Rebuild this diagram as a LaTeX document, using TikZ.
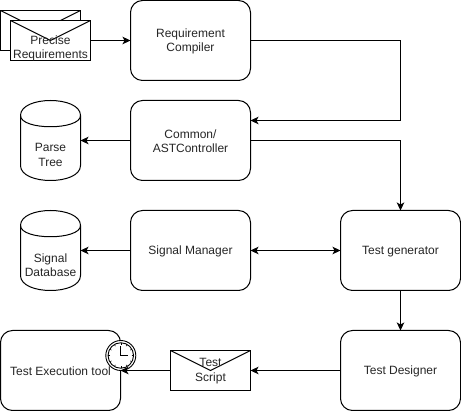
\documentclass[tikz,border=0pt]{standalone}
\usepackage{fontspec}
\setmainfont{Liberation Sans}
\usetikzlibrary{arrows.meta,calc}
\tikzset{
  x=1pt,y=-1pt,
  every node/.style={font=\fontsize{12}{14.5}\selectfont,text=black!85,align=center,inner sep=0pt,outer sep=0pt},
  proc/.style={draw=black,fill=white,line width=1pt,rounded corners=12pt,minimum width=120pt,minimum height=80pt},
  envbox/.style={draw=black,fill=white,line width=1pt,minimum width=80pt,minimum height=40pt},
  cylbox/.style={minimum width=60pt,minimum height=80pt},
  txt/.style={text height=8.7pt,text depth=2.5pt},
  link/.style={line width=1pt,draw=black,-{Stealth[length=8pt,width=7.5pt,inset=2pt]}},
  biglink/.style={line width=1pt,draw=black,{Stealth[length=8pt,width=7.5pt,inset=2pt]}-{Stealth[length=8pt,width=7.5pt,inset=2pt]}},
  shapeline/.style={line width=1pt,draw=black,fill=white},
  thinline/.style={line width=0.5pt,draw=black}
}
\newcommand{\flap}[1]{\draw[shapeline,fill=none] (#1.north west) -- (#1.center) -- (#1.north east);}
\newcommand{\datastore}[1]{%
  \draw[shapeline] ($(#1.north west)+(0,15)$) .. controls +(0,-20) and ($(#1.north east)+(0,-5)$) .. ($(#1.north east)+(0,15)$)
    -- ($(#1.south east)+(0,-15)$) .. controls +(0,20) and ($(#1.south west)+(0,5)$) .. ($(#1.south west)+(0,-15)$) -- cycle;
  \draw[shapeline,fill=none] ($(#1.north west)+(0,15)$) .. controls +(0,15) and ($(#1.north east)+(0,30)$) .. ($(#1.north east)+(0,15)$);}
\begin{document}
\begin{tikzpicture}
\useasboundingbox (0,0) rectangle (461,411);
\fill[white] (0,0) rectangle (461,411);
\begin{scope}[shift={(0.5,0.5)}]
% process boxes
\node[proc] (compiler) at (190,40) {};
\node (compilerlabel) at (190,40.7) {Requirement\\Compiler};
\node[proc] (common) at (190,140) {};
\node (commonlabel) at (190,140.7) {Common/\\ASTController};
\node[proc] (signal) at (190,250) {};
\node (signallabel) at (190,250.7) {Signal Manager};
\node[proc] (generator) at (400,250) {};
\node (generatorlabel) at (400,250.7) {Test generator};
\node[proc] (designer) at (400,370) {};
\node (designerlabel) at (400,370.7) {Test Designer};
\node[proc] (exec) at (60,370) {};
\node (execlabel) at (60,370.7) {Test Execution tool};

% envelopes
\node[envbox] (backenv) at (40,30) {};
\flap{backenv}
\node[envbox] (frontenv) at (50,40) {};
\flap{frontenv}
\node (frontlabel) at (50,47.7) {Precise\\Requirements};
\node[envbox] (script) at (210,370) {};
\flap{script}
\node (scriptlabel) at (210,370.7) {Test\\Script};

% data stores
\node[cylbox] (parse) at (50,140) {};
\datastore{parse}
\node (parselabel) at (50,154.5) {Parse\\Tree};
\node[cylbox] (database) at (50,250) {};
\datastore{database}
\node (databaselabel) at (50,264.5) {Signal\\Database};

% timer
\node[circle,draw=black,fill=white,line width=0.9pt,minimum size=30pt] (timer) at (120.3,355) {};
\node[circle,draw=black,fill=white,line width=0.9pt,minimum size=25.5pt] (timerface) at (timer.center) {};
\foreach \a in {0,30,...,330}
  \draw[thinline] ($(timerface.center)+(\a:10.8)$) -- ($(timerface.center)+(\a:12.5)$);
\draw[line width=0.8pt] ($(timerface.center)+(0,-9.5)$) -- (timerface.center) -- ($(timerface.center)+(7.5,0)$);

% connectors
\coordinate (turnA) at (400,40);
\coordinate (turnB) at (400,120);
\coordinate (commonIn) at (250,120);
\coordinate (commonOut) at (250,140);
\coordinate (turnC) at (400,140);
\draw[link] (frontenv.east) -- (compiler.west);
\draw[link] (compiler.east) -- (turnA) -- (turnB) -- (commonIn);
\draw[link] (commonOut) -- (turnC) -- (generator.north);
\draw[link] (common.west) -- (parse.east);
\draw[link] (signal.west) -- (database.east);
\draw[biglink] (signal.east) -- (generator.west);
\draw[link] (generator.south) -- (designer.north);
\draw[link] (designer.west) -- (script.east);
\draw[link] (script.west) -- (exec.east);
\end{scope}
\end{tikzpicture}
\end{document}
